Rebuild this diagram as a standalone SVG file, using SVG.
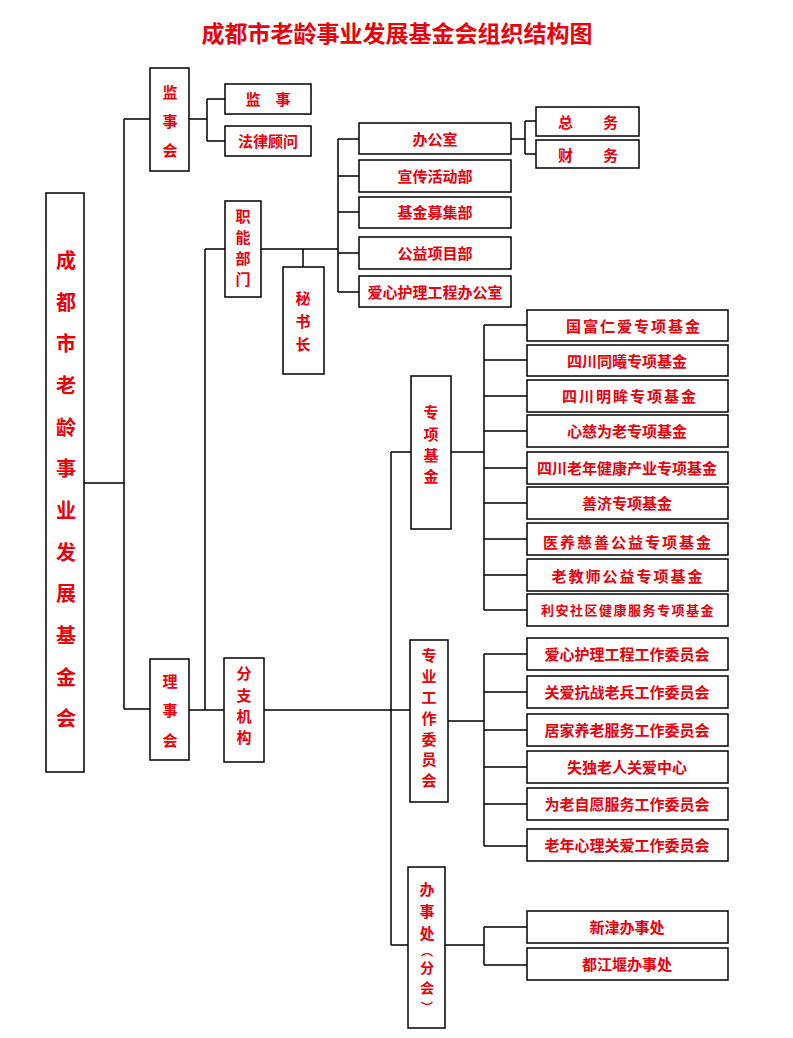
<svg xmlns="http://www.w3.org/2000/svg" width="793" height="1038" viewBox="0 0 793 1038">
<style>
.b{fill:#fff;stroke:#000;stroke-width:1.5}
text{fill:#e8000b;font-family:"Noto Sans CJK SC","Liberation Sans",sans-serif;font-weight:bold;text-anchor:middle;dominant-baseline:central}
.t{font-size:15px}
.v{font-size:15px}
.l{stroke:#000;stroke-width:1.5;fill:none}
</style>
<rect width="793" height="1038" fill="#fff"/>
<text x="397" y="32" style="font-size:23px">成都市老龄事业发展基金会组织结构图</text>
<g id="connectors" class="l">
<path d="M84 483H124M124 119V709M124 119H150M124 709H150"/>
<path d="M189 119H207M207 99V141M207 99H225M207 141H225"/>
<path d="M189 710H224M205 249V710M205 249H225"/>
<path d="M261 249H338M303 249V267M338 139V292M338 139H359M338 176H359M338 212H359M338 253H359M338 292H359"/>
<path d="M511 139H525M525 121V154M525 121H536M525 154H536"/>
<path d="M264 710H391M391 452V945M391 452H411M391 710H410M391 945H408"/>
<path d="M451 452H484M484 325V610M484 325H527M484 360H527M484 396H527M484 431H527M484 468H527M484 503H527M484 539H527M484 575H527M484 610H527"/>
<path d="M448 721H484M484 654V846M484 654H527M484 692H527M484 730H527M484 767H527M484 804H527M484 846H527"/>
<path d="M445 945H484M484 927V965M484 927H527M484 965H527"/>
</g>
<g id="root"><rect class="b" x="46" y="193" width="38" height="579"/>
<text style="font-size:20px"><tspan x="66" y="259">成</tspan><tspan x="66" y="301">都</tspan><tspan x="66" y="342">市</tspan><tspan x="66" y="384">老</tspan><tspan x="66" y="426">龄</tspan><tspan x="66" y="467">事</tspan><tspan x="66" y="509">业</tspan><tspan x="66" y="551">发</tspan><tspan x="66" y="592">展</tspan><tspan x="66" y="634">基</tspan><tspan x="66" y="676">金</tspan><tspan x="66" y="717">会</tspan></text></g>
<g id="jianshihui"><rect class="b" x="150" y="68" width="39" height="103"/><text class="v"><tspan x="170" y="91">监</tspan><tspan x="170" y="120">事</tspan><tspan x="170" y="149">会</tspan></text></g>
<g id="jianshi"><rect class="b" x="225" y="84" width="86" height="30"/><text class="t" x="268" y="98">监　事</text></g>
<g id="falv"><rect class="b" x="225" y="126" width="86" height="30"/><text class="t" x="268" y="140">法律顾问</text></g>
<g id="lishihui"><rect class="b" x="150" y="659" width="39" height="101"/><text class="v"><tspan x="170" y="680">理</tspan><tspan x="170" y="709">事</tspan><tspan x="170" y="739">会</tspan></text></g>
<g id="zhineng"><rect class="b" x="225" y="201" width="36" height="96"/><text class="v"><tspan x="243" y="215">职</tspan><tspan x="243" y="236">能</tspan><tspan x="243" y="257">部</tspan><tspan x="243" y="278">门</tspan></text></g>
<g id="mishu"><rect class="b" x="283" y="267" width="41" height="107"/><text class="v"><tspan x="303" y="297">秘</tspan><tspan x="303" y="320">书</tspan><tspan x="303" y="343">长</tspan></text></g>
<g id="fenzhi"><rect class="b" x="224" y="658" width="40" height="104"/><text class="v"><tspan x="244" y="672">分</tspan><tspan x="244" y="694">支</tspan><tspan x="244" y="715">机</tspan><tspan x="244" y="736">构</tspan></text></g>
<g id="bgs"><rect class="b" x="359" y="123" width="152" height="31"/><text class="t" x="435" y="138">办公室</text></g>
<g id="xc"><rect class="b" x="359" y="160" width="152" height="32"/><text class="t" x="435" y="175">宣传活动部</text></g>
<g id="jj"><rect class="b" x="359" y="197" width="152" height="31"/><text class="t" x="435" y="211">基金募集部</text></g>
<g id="gy"><rect class="b" x="359" y="237" width="152" height="32"/><text class="t" x="435" y="252">公益项目部</text></g>
<g id="ax"><rect class="b" x="359" y="276" width="152" height="31"/><text class="t" x="435" y="291">爱心护理工程办公室</text></g>
<g id="zw"><rect class="b" x="536" y="107" width="103" height="29"/><text class="t" x="588" y="121">总　　务</text></g>
<g id="cw"><rect class="b" x="536" y="140" width="103" height="28"/><text class="t" x="588" y="154">财　　务</text></g>
<g id="zxjj"><rect class="b" x="411" y="376" width="40" height="153"/><text class="v"><tspan x="431" y="411">专</tspan><tspan x="431" y="433">项</tspan><tspan x="431" y="454">基</tspan><tspan x="431" y="475">金</tspan></text></g>
<g id="zygz"><rect class="b" x="410" y="640" width="38" height="162"/><text class="v"><tspan x="429" y="654">专</tspan><tspan x="429" y="675">业</tspan><tspan x="429" y="696">工</tspan><tspan x="429" y="717">作</tspan><tspan x="429" y="738">委</tspan><tspan x="429" y="758">员</tspan><tspan x="429" y="779">会</tspan></text></g>
<g id="bsc"><rect class="b" x="408" y="867" width="37" height="161"/><text class="v"><tspan x="427" y="888">办</tspan><tspan x="427" y="910">事</tspan><tspan x="427" y="932">处</tspan><tspan x="427" y="950" style="font-size:12px">︵</tspan><tspan x="427" y="967" style="font-size:14px">分</tspan><tspan x="427" y="987" style="font-size:14px">会</tspan><tspan x="427" y="1006" style="font-size:12px">︶</tspan></text></g>
<g id="f1"><rect class="b" x="527" y="310" width="201" height="31"/><text class="t" x="634" y="325" letter-spacing="2">国富仁爱专项基金</text></g>
<g id="f2"><rect class="b" x="527" y="345" width="201" height="31"/><text class="t" x="627" y="360">四川同曦专项基金</text></g>
<g id="f3"><rect class="b" x="527" y="380" width="201" height="32"/><text class="t" x="630" y="395" letter-spacing="2">四川明眸专项基金</text></g>
<g id="f4"><rect class="b" x="527" y="415" width="201" height="32"/><text class="t" x="627" y="430">心慈为老专项基金</text></g>
<g id="f5"><rect class="b" x="527" y="452" width="201" height="32"/><text class="t" x="627" y="467">四川老年健康产业专项基金</text></g>
<g id="f6"><rect class="b" x="527" y="487" width="201" height="32"/><text class="t" x="627" y="502">善济专项基金</text></g>
<g id="f7"><rect class="b" x="527" y="523" width="201" height="32"/><text class="t" x="628" y="541" letter-spacing="2">医养慈善公益专项基金</text></g>
<g id="f8"><rect class="b" x="527" y="559" width="201" height="32"/><text class="t" x="628" y="575" letter-spacing="2">老教师公益专项基金</text></g>
<g id="f9"><rect class="b" x="527" y="594" width="201" height="32"/><text class="t" x="628" y="609" style="font-size:13px" letter-spacing="1.5">利安社区健康服务专项基金</text></g>
<g id="w1"><rect class="b" x="527" y="638" width="201" height="32"/><text class="t" x="627" y="653">爱心护理工程工作委员会</text></g>
<g id="w2"><rect class="b" x="527" y="676" width="201" height="32"/><text class="t" x="627" y="691">关爱抗战老兵工作委员会</text></g>
<g id="w3"><rect class="b" x="527" y="714" width="201" height="32"/><text class="t" x="627" y="729">居家养老服务工作委员会</text></g>
<g id="w4"><rect class="b" x="527" y="751" width="201" height="32"/><text class="t" x="627" y="766">失独老人关爱中心</text></g>
<g id="w5"><rect class="b" x="527" y="788" width="201" height="32"/><text class="t" x="627" y="803">为老自愿服务工作委员会</text></g>
<g id="w6"><rect class="b" x="527" y="829" width="201" height="32"/><text class="t" x="627" y="844">老年心理关爱工作委员会</text></g>
<g id="o1"><rect class="b" x="527" y="911" width="201" height="32"/><text class="t" x="627" y="926">新津办事处</text></g>
<g id="o2"><rect class="b" x="527" y="948" width="201" height="32"/><text class="t" x="627" y="963">都江堰办事处</text></g>
</svg>
